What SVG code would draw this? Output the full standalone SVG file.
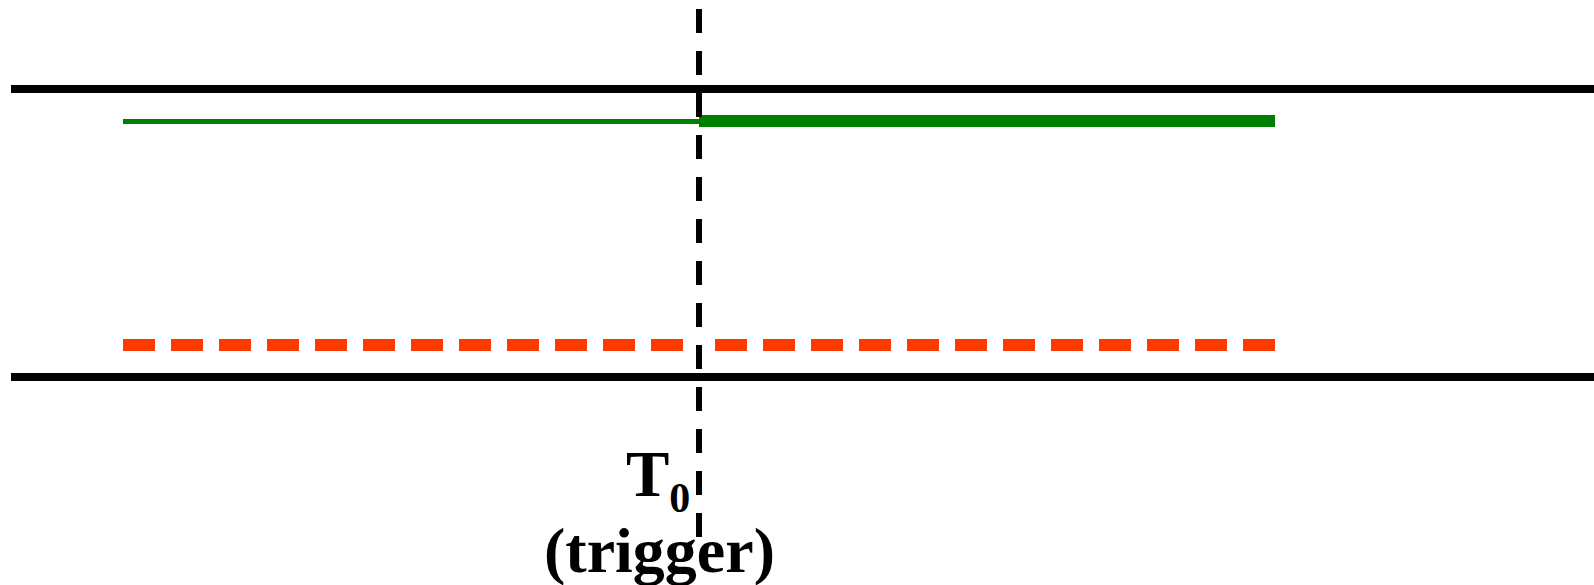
<svg xmlns="http://www.w3.org/2000/svg" width="1594" height="585" viewBox="0 0 1594 585">
<style>
.rail{stroke:#000;stroke-width:8;fill:none}
.grn{stroke:#008000;fill:none}
.red{stroke:#ff3a00;stroke-width:12;stroke-dasharray:32 16;fill:none}
.trig{stroke:#000;stroke-width:6;stroke-dasharray:24 18;fill:none}
.lbl{font-family:"Liberation Serif","Times New Roman",serif;font-weight:bold;fill:#000}
</style>
<rect width="1594" height="585" fill="#fff"/>
<g id="rails">
<line class="rail" x1="11" y1="89" x2="1594" y2="89"/>
<line class="rail" x1="11" y1="377" x2="1594" y2="377"/>
</g>
<g id="green-signal">
<line class="grn" stroke-width="5" x1="123" y1="121.5" x2="699" y2="121.5"/>
<line class="grn" stroke-width="12" x1="699" y1="121" x2="1275" y2="121"/>
</g>
<g id="red-signal">
<line class="red" x1="123" y1="345" x2="683" y2="345"/>
<line class="red" x1="715" y1="345" x2="1275" y2="345"/>
</g>
<g id="connectors">
<line class="trig" x1="699" y1="9" x2="699" y2="540"/>
</g>
<g id="label">
<text class="lbl" x="626" y="496" font-size="65">T<tspan font-size="42" y="512">0</tspan></text>
<text class="lbl" x="659.5" y="572" font-size="64" text-anchor="middle">(trigger)</text>
</g>
</svg>
